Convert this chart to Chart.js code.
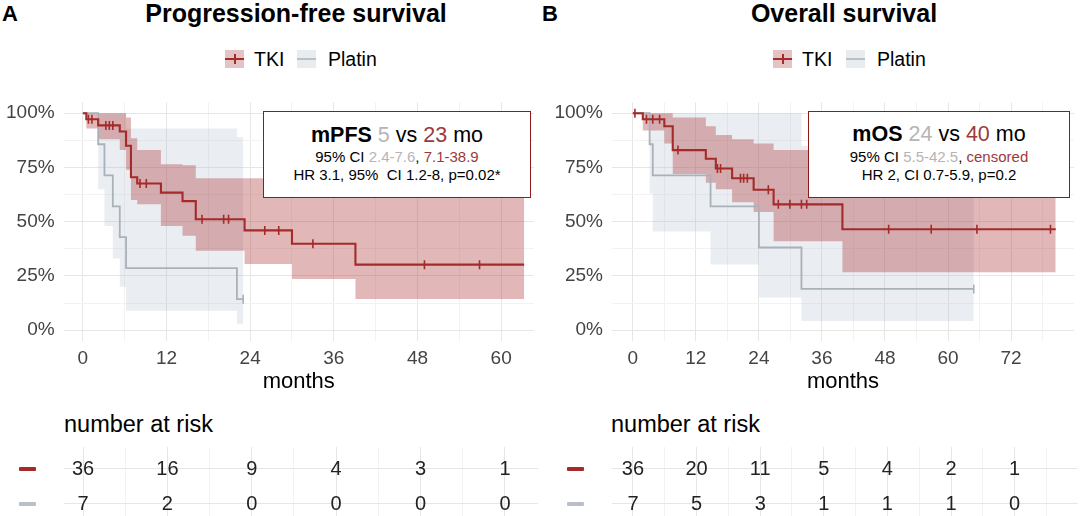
<!DOCTYPE html>
<html>
<head>
<meta charset="utf-8">
<title>PFS / OS</title>
<script src="https://cdn.jsdelivr.net/npm/chart.js@4.4.1/dist/chart.umd.min.js"></script>
<style>
  html, body { margin: 0; padding: 0; background: #fff; }
  body { width: 1080px; height: 516px; position: relative; overflow: hidden;
         font-family: "Liberation Sans", Arial, sans-serif; color: #000; }
  canvas { position: absolute; }
  .abs { position: absolute; white-space: nowrap; }
  .letter { font-weight: bold; font-size: 22px; line-height: 22px; }
  .title { font-weight: bold; font-size: 25px; line-height: 25px; transform: translateX(-50%); }
  .leg { font-size: 19.5px; line-height: 19.5px; }
  .key { position: absolute; width: 19px; height: 18px; }
  .key i { position: absolute; left: 0; right: 0; top: 8px; height: 2px; }
  .key b { position: absolute; left: 8.5px; top: 4px; width: 2px; height: 10px; }
  .box { position: absolute; border: 1.5px solid #8e1b1b; background: #fff; box-sizing: border-box; }
  .bl { position: absolute; text-align: center; white-space: nowrap; }
  .l1 { font-size: 21.5px; line-height: 21.5px; }
  .l2 { font-size: 15px; line-height: 15px; }
  .g { color: #b5b5b5; }
  .r { color: #9c3a3a; }
  .risk-title { font-size: 23.5px; line-height: 23.5px; }
  .dash { position: absolute; width: 17px; height: 4px; border-radius: 1px; }
</style>
</head>
<body>

<canvas id="pfs" width="540" height="318" style="left:0;top:82px"></canvas>
<canvas id="os" width="540" height="318" style="left:540px;top:82px"></canvas>
<canvas id="pfsRisk" width="540" height="69" style="left:0;top:447px"></canvas>
<canvas id="osRisk" width="540" height="69" style="left:540px;top:447px"></canvas>

<!-- panel A heading + legend -->
<div class="abs letter" style="left:2px;top:3px">A</div>
<div class="abs title" style="left:296px;top:1px">Progression-free survival</div>
<div class="key" style="left:225px;top:50px;background:#e3c3c3"><i style="background:#a52a2a"></i><b style="background:#a52a2a"></b></div>
<div class="abs leg" style="left:254px;top:50px">TKI</div>
<div class="key" style="left:297px;top:50px;background:#e9ecef"><i style="background:#b9c0c7"></i></div>
<div class="abs leg" style="left:328px;top:50px">Platin</div>

<!-- panel B heading + legend -->
<div class="abs letter" style="left:542px;top:3px">B</div>
<div class="abs title" style="left:844px;top:1px">Overall survival</div>
<div class="key" style="left:773px;top:50px;background:#e3c3c3"><i style="background:#a52a2a"></i><b style="background:#a52a2a"></b></div>
<div class="abs leg" style="left:802px;top:50px">TKI</div>
<div class="key" style="left:846px;top:50px;background:#e9ecef"><i style="background:#b9c0c7"></i></div>
<div class="abs leg" style="left:877px;top:50px">Platin</div>

<!-- annotation boxes -->
<div class="box" style="left:263px;top:111px;width:268px;height:87px"></div>
<div class="bl l1" style="left:263px;width:268px;top:125px"><b>mPFS</b> <span class="g">5</span> vs <span class="r">23</span> mo</div>
<div class="bl l2" style="left:263px;width:268px;top:149px">95% CI <span class="g">2.4-7.6</span>, <span class="r">7.1-38.9</span></div>
<div class="bl l2" style="left:263px;width:268px;top:167px">HR 3.1, 95%&nbsp; CI 1.2-8, p=0.02*</div>

<div class="box" style="left:808px;top:111px;width:262px;height:87px"></div>
<div class="bl l1" style="left:808px;width:262px;top:124px"><b>mOS</b> <span class="g">24</span> vs <span class="r">40</span> mo</div>
<div class="bl l2" style="left:808px;width:262px;top:149px">95% CI <span class="g">5.5-42.5</span>, <span class="r">censored</span></div>
<div class="bl l2" style="left:808px;width:262px;top:167px">HR 2, CI 0.7-5.9, p=0.2</div>

<!-- risk table headings -->
<div class="abs risk-title" style="left:64px;top:413px">number at risk</div>
<div class="abs risk-title" style="left:611px;top:413px">number at risk</div>
<div class="dash" style="left:19px;top:467px;background:#a52a2a"></div>
<div class="dash" style="left:19px;top:502px;background:#b9c0c7"></div>
<div class="dash" style="left:567px;top:467px;background:#a52a2a"></div>
<div class="dash" style="left:567px;top:502px;background:#b9c0c7"></div>

<script>
// ---- colours ----
const RED = '#a52a2a';
const RED_BAND = 'rgba(175, 55, 55, 0.36)';
const GREY = '#a9b1b9';
const GREY_BAND = 'rgba(175, 185, 200, 0.26)';
const GRID_MAJOR = '#e6e6e6';
const GRID_MINOR = '#f2f2f2';
const TICK_COLOR = '#444444';
const FONT = '"Liberation Sans", Arial, sans-serif';

Chart.defaults.font.family = FONT;

// ---- Progression-free survival (months, survival fraction) ----
const pfsTkiTime  = [0, 0.5, 2.2, 5.3, 6.2, 6.9, 7.8, 11.2, 14.3, 16.2, 23.2, 30.0, 39.1, 63.3];
const pfsTkiSurv  = [1.00, 0.972, 0.944, 0.916, 0.85, 0.705, 0.676, 0.634, 0.595, 0.511, 0.46, 0.398, 0.302, 0.302];
const pfsTkiUpper = [1.00, 1.00, 1.00, 1.00, 0.98, 0.885, 0.83, 0.765, 0.76, 0.70, 0.70, 0.70, 0.70, 0.70];
const pfsTkiLower = [1.00, 0.93, 0.88, 0.83, 0.74, 0.60, 0.58, 0.48, 0.435, 0.366, 0.305, 0.236, 0.144, 0.144];
const pfsTkiCensored = [0.8, 1.3, 3.3, 3.8, 4.3, 8.2, 9.1, 17.1, 20.2, 20.9, 26.1, 28.1, 33.0, 49.0, 56.9];

const pfsPlatinTime  = [0, 2.2, 3.1, 4.3, 5.3, 6.2, 22.1, 23.0];
const pfsPlatinSurv  = [1.00, 0.857, 0.714, 0.571, 0.429, 0.286, 0.143, 0.143];
const pfsPlatinUpper = [1.00, 1.00, 1.00, 1.00, 1.00, 0.93, 0.89, 0.89];
const pfsPlatinLower = [1.00, 0.65, 0.48, 0.33, 0.20, 0.09, 0.03, 0.03];
const pfsPlatinCensored = [23.0];

// ---- Overall survival ----
const osTkiTime  = [0, 1.9, 6.0, 7.6, 13.9, 15.8, 18.9, 23.0, 26.8, 39.9, 80.5];
const osTkiSurv  = [1.00, 0.972, 0.94, 0.83, 0.79, 0.745, 0.70, 0.647, 0.58, 0.465, 0.465];
const osTkiUpper = [1.00, 1.00, 1.00, 0.98, 0.94, 0.90, 0.88, 0.86, 0.83, 0.80, 0.80];
const osTkiLower = [1.00, 0.92, 0.86, 0.72, 0.68, 0.65, 0.59, 0.545, 0.41, 0.267, 0.267];
const osTkiCensored = [0.4, 2.6, 3.8, 5.1, 8.6, 16.1, 16.7, 20.5, 21.1, 21.8, 25.8, 27.7, 29.9, 32.1, 33.1, 48.7, 56.8, 65.5, 79.5];

const osPlatinTime  = [0, 3.2, 3.8, 14.8, 24.0, 32.1, 64.9];
const osPlatinSurv  = [1.00, 0.857, 0.714, 0.571, 0.381, 0.19, 0.19];
const osPlatinUpper = [1.00, 1.00, 1.00, 1.00, 1.00, 0.85, 0.85];
const osPlatinLower = [1.00, 0.63, 0.455, 0.303, 0.15, 0.042, 0.042];
const osPlatinCensored = [64.9];

// ---- number at risk ----
const pfsRiskTimes  = [0, 12, 24, 36, 48, 60];
const pfsRiskTki    = [36, 16, 9, 4, 3, 1];
const pfsRiskPlatin = [7, 2, 0, 0, 0, 0];

const osRiskTimes  = [0, 12, 24, 36, 48, 60, 72];
const osRiskTki    = [36, 20, 11, 5, 4, 2, 1];
const osRiskPlatin = [7, 5, 3, 1, 1, 1, 0];

// ---- axis ticks / grid ----
const pfsXGrid = [0, 6, 12, 18, 24, 30, 36, 42, 48, 54, 60];
const osXGrid  = [0, 6, 12, 18, 24, 30, 36, 42, 48, 54, 60, 66, 72, 78];
const yGrid    = [0, 0.125, 0.25, 0.375, 0.5, 0.625, 0.75, 0.875, 1];

const toPoints = (times, vals) => times.map((t, i) => ({ x: t, y: vals[i] }));

// value of the step curve at time t (used to put censor ticks on the curve)
function survAt(times, vals, t) {
  let v = vals[0];
  for (let i = 0; i < times.length; i++) if (times[i] <= t) v = vals[i];
  return v;
}

const gridColor = c => (c.tick && c.tick.value % 12 === 0) ? GRID_MAJOR : GRID_MINOR;

function survivalConfig(p) {
  const censor = (cens, times, surv, color) => ({
    data: cens.map(t => ({ x: t, y: survAt(times, surv, t) })),
    showLine: false, pointStyle: 'line', rotation: 90,
    pointRadius: 4.5, pointBorderWidth: 1.6, borderColor: color, pointBorderColor: color
  });
  const curve = (times, surv, color, w) => ({
    data: toPoints(times, surv), stepped: true, borderColor: color, borderWidth: w,
    pointRadius: 0, fill: false
  });
  const band = (times, vals, color, fill) => ({
    data: toPoints(times, vals), stepped: true, borderWidth: 0, borderColor: 'rgba(0,0,0,0)',
    backgroundColor: color, pointRadius: 0, fill: fill
  });

  return {
    type: 'line',
    data: {
      datasets: [
        // first dataset is drawn on top
        censor(p.tkiCens, p.tkiT, p.tkiS, RED),
        censor(p.plaCens, p.plaT, p.plaS, GREY),
        curve(p.tkiT, p.tkiS, RED, 2.1),
        curve(p.plaT, p.plaS, GREY, 1.8),
        band(p.tkiT, p.tkiHi, RED_BAND, '+1'),
        band(p.tkiT, p.tkiLo, RED_BAND, false),
        band(p.plaT, p.plaHi, GREY_BAND, '+1'),
        band(p.plaT, p.plaLo, GREY_BAND, false)
      ]
    },
    options: {
      responsive: false,
      animation: false,
      // top space comes from the y label overflow (~21px)
      layout: { padding: { top: 0, right: 2, left: 0, bottom: 0 } },
      plugins: { legend: { display: false }, tooltip: { enabled: false } },
      scales: {
        x: {
          type: 'linear', min: p.xMin, max: p.xMax,
          afterBuildTicks: ax => { ax.ticks = p.xGrid.map(v => ({ value: v })); },
          afterFit: ax => { ax.height = 59; },
          ticks: {
            autoSkip: false, maxRotation: 0, padding: 6.5, color: TICK_COLOR,
            font: { size: 19 },
            callback: v => (v % 12 === 0 ? v : '')
          },
          grid: { color: gridColor, drawTicks: false },
          border: { display: false },
          title: {
            display: true, text: 'months', color: '#000000',
            font: { size: 22 }, padding: { top: 0, bottom: 4.8 }
          }
        },
        y: {
          min: -0.05, max: 1.05,
          afterBuildTicks: ax => { ax.ticks = yGrid.map(v => ({ value: v })); },
          afterFit: ax => { ax.width = p.yWidth; },
          ticks: {
            autoSkip: false, padding: 9, color: TICK_COLOR, font: { size: 19 },
            callback: v => (v % 0.25 === 0 ? Math.round(v * 100) + '%' : '')
          },
          grid: { color: c => (c.tick && c.tick.value % 0.25 === 0) ? GRID_MAJOR : GRID_MINOR, drawTicks: false },
          border: { display: false }
        }
      }
    }
  };
}

// numbers at risk drawn at the scale positions of each point
const riskLabels = {
  id: 'riskLabels',
  afterDatasetsDraw(chart) {
    const ctx = chart.ctx;
    ctx.save();
    ctx.font = '20px ' + FONT;
    ctx.fillStyle = '#222222';
    ctx.textAlign = 'center';
    ctx.textBaseline = 'middle';
    chart.data.datasets.forEach((ds, i) => {
      chart.getDatasetMeta(i).data.forEach((pt, j) => {
        ctx.fillText(String(ds.data[j].n), pt.x, pt.y + 1);
      });
    });
    ctx.restore();
  }
};

function riskConfig(r) {
  return {
    type: 'scatter',
    data: {
      datasets: [
        { data: r.times.map((t, i) => ({ x: t, y: 2, n: r.tki[i] })), pointRadius: 0 },
        { data: r.times.map((t, i) => ({ x: t, y: 1, n: r.platin[i] })), pointRadius: 0 }
      ]
    },
    options: {
      responsive: false,
      animation: false,
      layout: { padding: { top: 0, right: 2, left: 0, bottom: 0 } },
      plugins: { legend: { display: false }, tooltip: { enabled: false } },
      scales: {
        x: {
          type: 'linear', min: r.xMin, max: r.xMax,
          afterBuildTicks: ax => { ax.ticks = r.xGrid.map(v => ({ value: v })); },
          afterFit: ax => { ax.height = 0; },
          ticks: { display: false },
          grid: { color: gridColor, drawTicks: false },
          border: { display: false }
        },
        y: {
          min: 0.657, max: 2.6,
          afterBuildTicks: ax => { ax.ticks = [{ value: 1 }, { value: 2 }]; },
          afterFit: ax => { ax.width = r.yWidth; },
          ticks: { display: false },
          grid: { color: GRID_MAJOR, drawTicks: false },
          border: { display: false }
        }
      }
    },
    plugins: [riskLabels]
  };
}

// ---- panel A ----
new Chart(document.getElementById('pfs'), survivalConfig({
  tkiT: pfsTkiTime, tkiS: pfsTkiSurv, tkiHi: pfsTkiUpper, tkiLo: pfsTkiLower, tkiCens: pfsTkiCensored,
  plaT: pfsPlatinTime, plaS: pfsPlatinSurv, plaHi: pfsPlatinUpper, plaLo: pfsPlatinLower, plaCens: pfsPlatinCensored,
  xMin: -2.76, xMax: 64.7, xGrid: pfsXGrid, yWidth: 63.6
}));
new Chart(document.getElementById('pfsRisk'), riskConfig({
  times: pfsRiskTimes, tki: pfsRiskTki, platin: pfsRiskPlatin,
  xMin: -2.76, xMax: 64.7, xGrid: pfsXGrid, yWidth: 63.6
}));

// ---- panel B ----
new Chart(document.getElementById('os'), survivalConfig({
  tkiT: osTkiTime, tkiS: osTkiSurv, tkiHi: osTkiUpper, tkiLo: osTkiLower, tkiCens: osTkiCensored,
  plaT: osPlatinTime, plaS: osPlatinSurv, plaHi: osPlatinUpper, plaLo: osPlatinLower, plaCens: osPlatinCensored,
  xMin: -3.96, xMax: 83.96, xGrid: osXGrid, yWidth: 72
}));
new Chart(document.getElementById('osRisk'), riskConfig({
  times: osRiskTimes, tki: osRiskTki, platin: osRiskPlatin,
  xMin: -3.96, xMax: 83.96, xGrid: osXGrid, yWidth: 72
}));
</script>
</body>
</html>
